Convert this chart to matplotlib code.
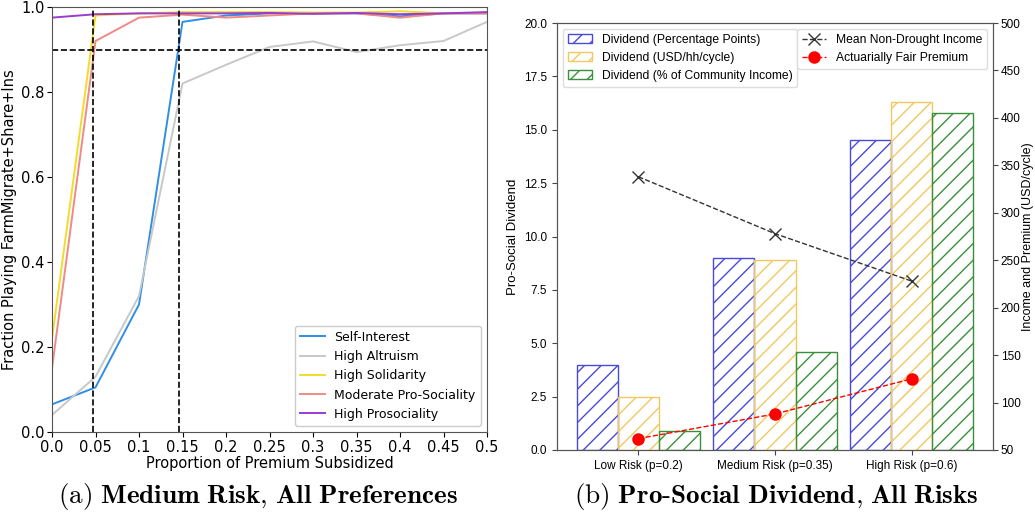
import numpy as np
import matplotlib.pyplot as plt

plt.rcParams['mathtext.fontset'] = 'cm'

# left panel data
subsidy = [0.0, 0.05, 0.1, 0.15, 0.2, 0.25, 0.3, 0.35, 0.4, 0.45, 0.5]
self_interest = [0.065, 0.105, 0.30, 0.965, 0.98, 0.985, 0.985, 0.985, 0.978, 0.985, 0.985]
high_altruism = [0.04, 0.13, 0.32, 0.82, 0.864, 0.906, 0.919, 0.894, 0.91, 0.92, 0.965]
high_solidarity = [0.22, 0.98, 0.985, 0.988, 0.988, 0.988, 0.987, 0.987, 0.99, 0.985, 0.986]
moderate_pro = [0.15, 0.92, 0.975, 0.982, 0.975, 0.98, 0.985, 0.985, 0.975, 0.985, 0.985]
high_prosoc = [0.975, 0.983, 0.985, 0.985, 0.985, 0.986, 0.984, 0.986, 0.983, 0.985, 0.988]
vlines = [0.047, 0.146]
hline = 0.9
xticks_left = [0.0, 0.05, 0.1, 0.15, 0.2, 0.25, 0.3, 0.35, 0.4, 0.45, 0.5]
xticklabels_left = ['0.0', '0.05', '0.1', '0.15', '0.2', '0.25', '0.3', '0.35', '0.4', '0.45', '0.5']

# right panel data
risks = ['Low Risk (p=0.2)', 'Medium Risk (p=0.35)', 'High Risk (p=0.6)']
div_pp = [4.0, 9.0, 14.5]
div_usd = [2.5, 8.9, 16.3]
div_pct = [0.9, 4.6, 15.8]
income = [338, 278, 228]
premium = [62, 88, 125]

fig = plt.figure(figsize=(10.35, 5.17), dpi=100)

# ---- left panel
ax = fig.add_axes([52/1035, 1-432/517, 435/1035, 425/517])
ax.plot(subsidy, self_interest, color='#2f8fe6', lw=1.4, label='Self-Interest')
ax.plot(subsidy, high_altruism, color='#c8c8c8', lw=1.4, label='High Altruism')
ax.plot(subsidy, high_solidarity, color='#f2dc2a', lw=1.4, label='High Solidarity')
ax.plot(subsidy, moderate_pro, color='#f08a84', lw=1.4, label='Moderate Pro-Sociality')
ax.plot(subsidy, high_prosoc, color='#9a3ccc', lw=1.4, label='High Prosociality')
for v in vlines:
    ax.axvline(v, color='black', ls='--', lw=1.2)
ax.axhline(hline, color='black', ls='--', lw=1.2)
ax.set_xlim(0, 0.5)
ax.set_ylim(0, 1.0)
ax.set_xticks(xticks_left)
ax.set_xticklabels(xticklabels_left)
ax.tick_params(labelsize=10.5, pad=2)
ax.set_xlabel('Proportion of Premium Subsidized', fontsize=10.5, labelpad=1)
ax.set_ylabel('Fraction Playing FarmMigrate+Share+Ins', fontsize=10.5, labelpad=3)
for s in ax.spines.values():
    s.set_color('#555555')
ax.legend(loc='lower right', fontsize=9, framealpha=1)

# ---- right panel
ax2 = fig.add_axes([557/1035, 1-450/517, 436/1035, 427/517])
x = np.arange(len(risks))
w = 0.3
ax2.bar(x - w, div_pp, w, fill=False, edgecolor='#4a4ad8', hatch='//', lw=1.0,
        label='Dividend (Percentage Points)')
ax2.bar(x, div_usd, w, fill=False, edgecolor='#f0c860', hatch='//', lw=1.0,
        label='Dividend (USD/hh/cycle)')
ax2.bar(x + w, div_pct, w, fill=False, edgecolor='#3a903a', hatch='//', lw=1.0,
        label='Dividend (% of Community Income)')
ax2.set_ylim(0, 20)
ax2.set_yticks(np.arange(0, 20.1, 2.5))
ax2.set_xticks(x)
ax2.set_xticklabels(risks)
ax2.set_ylabel('Pro-Social Dividend', fontsize=9.5, family='Liberation Sans')
ax2.tick_params(labelsize=8.5, color='#444444')
for lab in ax2.get_xticklabels() + ax2.get_yticklabels():
    lab.set_family('Liberation Sans')
ax2.legend(loc='upper left', prop={'family': 'Liberation Sans', 'size': 8.7},
           framealpha=1, edgecolor='#dddddd')

ax3 = ax2.twinx()
ax3.plot(x, income, color='#333333', ls='--', lw=1.0, marker='x', ms=8, mew=1.0,
         label='Mean Non-Drought Income')
ax3.plot(x, premium, color='red', ls='--', lw=1.0, marker='o', ms=8,
         label='Actuarially Fair Premium')
ax3.set_ylim(50, 500)
ax3.set_yticks(np.arange(50, 501, 50))
ax3.set_ylabel('Income and Premium (USD/cycle)', fontsize=9, family='Liberation Sans',
               labelpad=1)
ax3.tick_params(labelsize=8.5, color='#444444', pad=2)
for lab in ax3.get_yticklabels():
    lab.set_family('Liberation Sans')
ax3.legend(loc='upper right', prop={'family': 'Liberation Sans', 'size': 8.7},
           framealpha=1, edgecolor='#dddddd')
for a in (ax2, ax3):
    for s in a.spines.values():
        s.set_color('#555555')

# captions
fig.text(258/1035, 1-497/517, r'$\mathrm{(a)}\ \mathbf{Medium\ Risk{,}\ All\ Preferences}$',
         ha='center', va='center', fontsize=19.5)
fig.text(776/1035, 1-497/517, r'$\mathrm{(b)}\ \mathbf{Pro\text{-}Social\ Dividend{,}\ All\ Risks}$',
         ha='center', va='center', fontsize=19.5)

fig.savefig('out.png', dpi=100)
